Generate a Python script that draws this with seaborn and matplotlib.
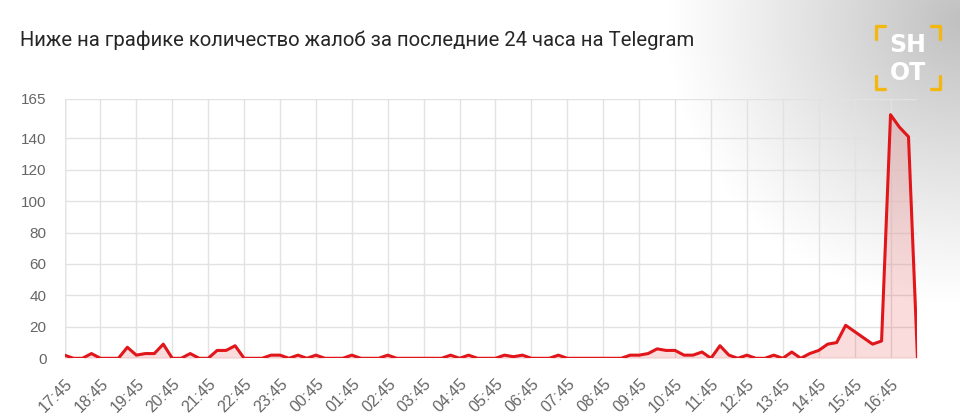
import numpy as np
import pandas as pd
import matplotlib.pyplot as plt
from matplotlib.lines import Line2D
import seaborn as sns

# complaints every 15 minutes, 17:45 .. 17:30 next day
counts = [
    2, 0, 0, 3, 0, 0, 0, 7, 2, 3, 3, 9, 0, 0, 3, 0,
    0, 5, 5, 8, 0, 0, 0, 2, 2, 0, 2, 0, 2, 0, 0, 0,
    2, 0, 0, 0, 2, 0, 0, 0, 0, 0, 0, 2, 0, 2, 0, 0,
    0, 2, 1, 2, 0, 0, 0, 2, 0, 0, 0, 0, 0, 0, 0, 2,
    2, 3, 6, 5, 5, 2, 2, 4, 0, 8, 2, 0, 2, 0, 0, 2,
    0, 4, 0, 3, 5, 9, 10, 21, 17, 13, 9, 11, 155, 147, 141, 0,
]
hour_labels = ["17:45", "18:45", "19:45", "20:45", "21:45", "22:45", "23:45",
               "00:45", "01:45", "02:45", "03:45", "04:45", "05:45", "06:45",
               "07:45", "08:45", "09:45", "10:45", "11:45", "12:45", "13:45",
               "14:45", "15:45", "16:45"]
y_ticks = [0, 20, 40, 60, 80, 100, 120, 140, 165]

df = pd.DataFrame({"step": np.arange(len(counts)), "count": counts})

sns.set_theme(style="whitegrid")
plt.rcParams["font.family"] = ["Liberation Sans", "DejaVu Sans"]

fig = plt.figure(figsize=(9.6, 4.17), dpi=100)
fig.patch.set_facecolor("white")

# grey shading in the top right corner behind the logo
bg = fig.add_axes([0, 0, 1, 1], zorder=0)
h, w = 417, 960
yy, xx = np.mgrid[0:h, 0:w]
d = np.sqrt(((xx - 960) / 300.0) ** 2 + ((yy - 20) / 290.0) ** 2)
alpha = np.clip(1 - d, 0, 1) ** 1.1 * 0.25
img = np.zeros((h, w, 4))
img[..., 3] = alpha
bg.imshow(img, extent=[0, 1, 0, 1], aspect="auto", origin="upper")
bg.axis("off")

ax = fig.add_axes([0.0672, 0.1408, 0.8885, 0.6218], zorder=1)
ax.set_facecolor("none")

sns.lineplot(data=df, x="step", y="count", color="#e0161b", linewidth=2.2, ax=ax)
ax.fill_between(df["step"], df["count"], color="#e0161b", alpha=0.15, linewidth=0)

ax.set_xlim(0, len(counts) - 1)
ax.set_ylim(0, 165)
ax.set_yticks(y_ticks)
ax.set_xticks(np.arange(0, len(counts), 4)[:len(hour_labels)])
ax.set_xticklabels(hour_labels, rotation=45, ha="right", rotation_mode="anchor")
ax.set_xlabel("")
ax.set_ylabel("")

ax.grid(True, color="#e2e2e2", linewidth=1)
for s in ["top", "right", "bottom", "left"]:
    ax.spines[s].set_visible(False)
ax.axvline(0, color="#d6d6d6", linewidth=1, zorder=0)
ax.axhline(0, color="#d6d6d6", linewidth=1, zorder=0)
ax.tick_params(axis="both", length=9, width=1, color="#e2e2e2",
               labelcolor="#666666", labelsize=11, pad=4)
ax.tick_params(axis="x", labelsize=11.5)

fig.text(0.021, 0.904, "Ниже на графике количество жалоб за последние 24 часа на Telegram",
         fontsize=14.6, color="#262626", family=["Roboto", "DejaVu Sans"], va="center")

# SHOT logo
fig.text(0.9455, 0.892, "SH", fontsize=17, color="white", fontweight="bold",
         ha="center", va="center", family=["DejaVu Sans"])
fig.text(0.9455, 0.826, "OT", fontsize=17, color="white", fontweight="bold",
         ha="center", va="center", family=["DejaVu Sans"])
yel = "#f2b711"
xl, xr, yt, yb = 876 / 960, 940 / 960, 1 - 26 / 417, 1 - 89 / 417
dx, dy = 0.009, 0.03
for xs, ys in [
    ([xl, xl, xl + dx], [yt - dy, yt, yt]),
    ([xr - dx, xr, xr], [yt, yt, yt - dy]),
    ([xl, xl, xl + dx], [yb + dy, yb, yb]),
    ([xr - dx, xr, xr], [yb, yb, yb + dy]),
]:
    fig.add_artist(Line2D(xs, ys, color=yel, linewidth=2.4, transform=fig.transFigure))

plt.savefig("out.png", dpi=100)
